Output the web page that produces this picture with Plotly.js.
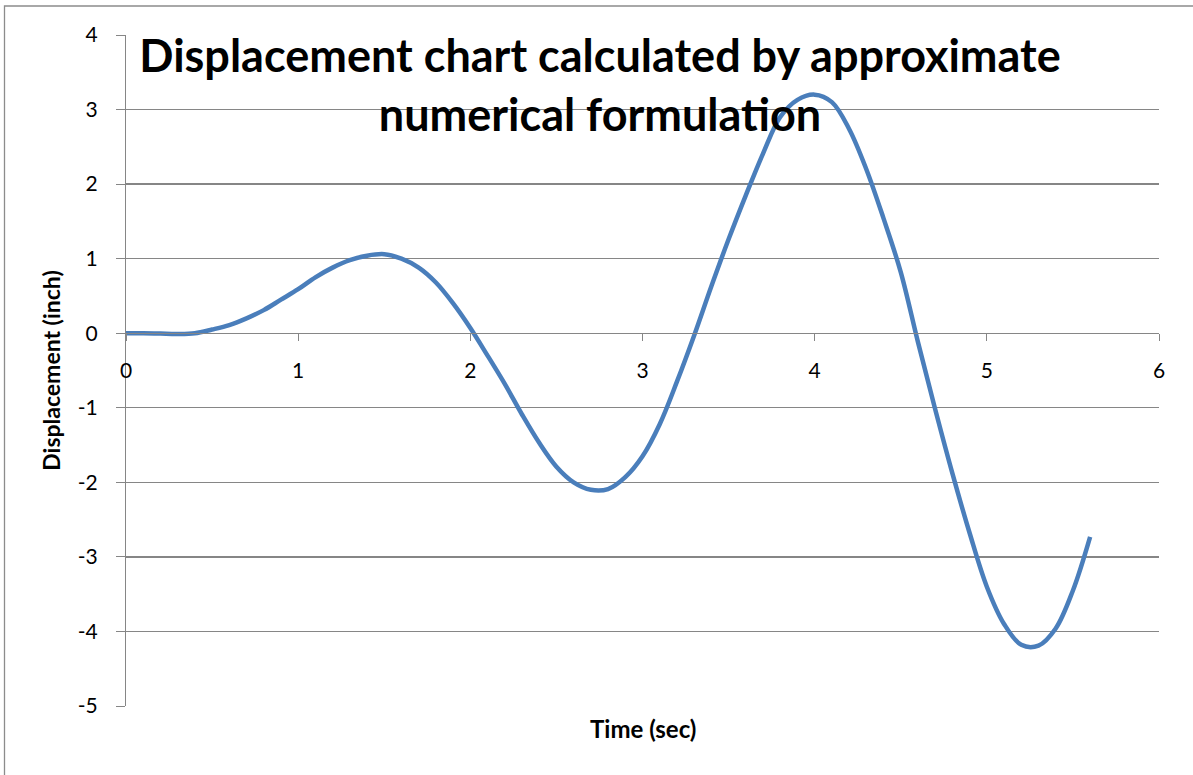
<!DOCTYPE html>
<html>
<head>
<meta charset="utf-8">
<script src="https://cdn.plot.ly/plotly-3.0.1.min.js"></script>
<style>html,body{margin:0;padding:0;background:#fff}#chart{width:1193px;height:775px}</style>
</head>
<body>
<div id="chart"></div>
<script>
const timeSec = [0.0,0.1,0.2,0.3,0.4,0.5,0.6,0.7,0.8,0.9,1.0,1.1,1.2,1.3,1.4,1.5,1.6,1.7,1.8,1.9,2.0,2.1,2.2,2.3,2.4,2.5,2.6,2.7,2.8,2.9,3.0,3.1,3.2,3.3,3.4,3.5,3.6,3.7,3.8,3.9,4.0,4.1,4.2,4.3,4.4,4.5,4.6,4.7,4.8,4.9,5.0,5.1,5.2,5.3,5.4,5.5,5.6];
const displacementInch = [0,0,-0.005,-0.01,0.0,0.05,0.11,0.2,0.31,0.45,0.59,0.75,0.88,0.98,1.04,1.06,1.0,0.88,0.68,0.40,0.07,-0.30,-0.68,-1.09,-1.47,-1.79,-2.0,-2.1,-2.09,-1.93,-1.65,-1.22,-0.65,-0.03,0.63,1.26,1.85,2.41,2.9,3.13,3.2,3.1,2.74,2.2,1.54,0.82,-0.12,-1.02,-1.88,-2.68,-3.4,-3.9,-4.18,-4.19,-3.96,-3.45,-2.73];
const xTicks = [0,1,2,3,4,5,6];
const yTicks = [-5,-4,-3,-2,-1,0,1,2,3,4];
const chartTitle = 'Displacement chart calculated by approximate<br>numerical formulation';
const xTitle = 'Time (sec)';
const yTitle = 'Displacement (inch)';

const font = 'Lato, "Open Sans", sans-serif';
const trace = {
  x: timeSec, y: displacementInch, type: 'scatter', mode: 'lines',
  line: {color: '#4A7EBB', width: 4.5, shape: 'spline', smoothing: 1},
  hoverinfo: 'x+y', showlegend: false
};
const layout = {
  width: 1193, height: 775,
  margin: {l: 126, r: 34, t: 35, b: 69, pad: 0},
  paper_bgcolor: '#ffffff', plot_bgcolor: '#ffffff',
  font: {family: font, color: '#000', size: 20},
  title: {text: chartTitle, font: {family: font, size: 45, color: '#000', weight: 'bold'},
          x: 600/1193, xanchor: 'center', xref: 'container', y: 1 - 72/775, yanchor: 'top', yref: 'container'},
  xaxis: {range: [0, 6], tickvals: xTicks, ticktext: xTicks.map(String), anchor: 'free', position: 5/9,
          showline: true, linecolor: '#868686', linewidth: 1, ticks: 'outside', ticklen: 7, tickcolor: '#868686',
          showgrid: false, zeroline: false, tickfont: {size: 21, family: font}, ticklabelstandoff: 12, fixedrange: true},
  yaxis: {range: [-5, 4], tickvals: yTicks, ticktext: yTicks.map(String), showline: true, linecolor: '#868686', linewidth: 1,
          ticks: 'outside', ticklen: 9, tickcolor: '#868686', showgrid: true, gridcolor: '#868686', gridwidth: 1.3,
          zeroline: false, tickfont: {size: 21, family: font}, ticklabelstandoff: 14,
          title: {text: yTitle, font: {family: font, size: 23, weight: 'bold'}, standoff: 10}, fixedrange: true},
  annotations: [{text: xTitle, xref: 'paper', yref: 'paper', x: 0.5, y: (706 - 728)/671, xanchor: 'center', yanchor: 'middle',
                 showarrow: false, font: {family: font, size: 24, weight: 'bold', color: '#000'}}],
  shapes: [{type: 'path', xref: 'paper', yref: 'paper',
            path: 'M ' + (4.5-126)/1033 + ' ' + (706-775)/671 + ' L ' + (4.5-126)/1033 + ' ' + (706-6)/671 + ' L ' + (1193-126)/1033 + ' ' + (706-6)/671,
            line: {color: '#8c8c8c', width: 1.3}, layer: 'below'}]
};
Plotly.newPlot('chart', [trace], layout, {displayModeBar: false, staticPlot: true});
</script>
</body>
</html>
